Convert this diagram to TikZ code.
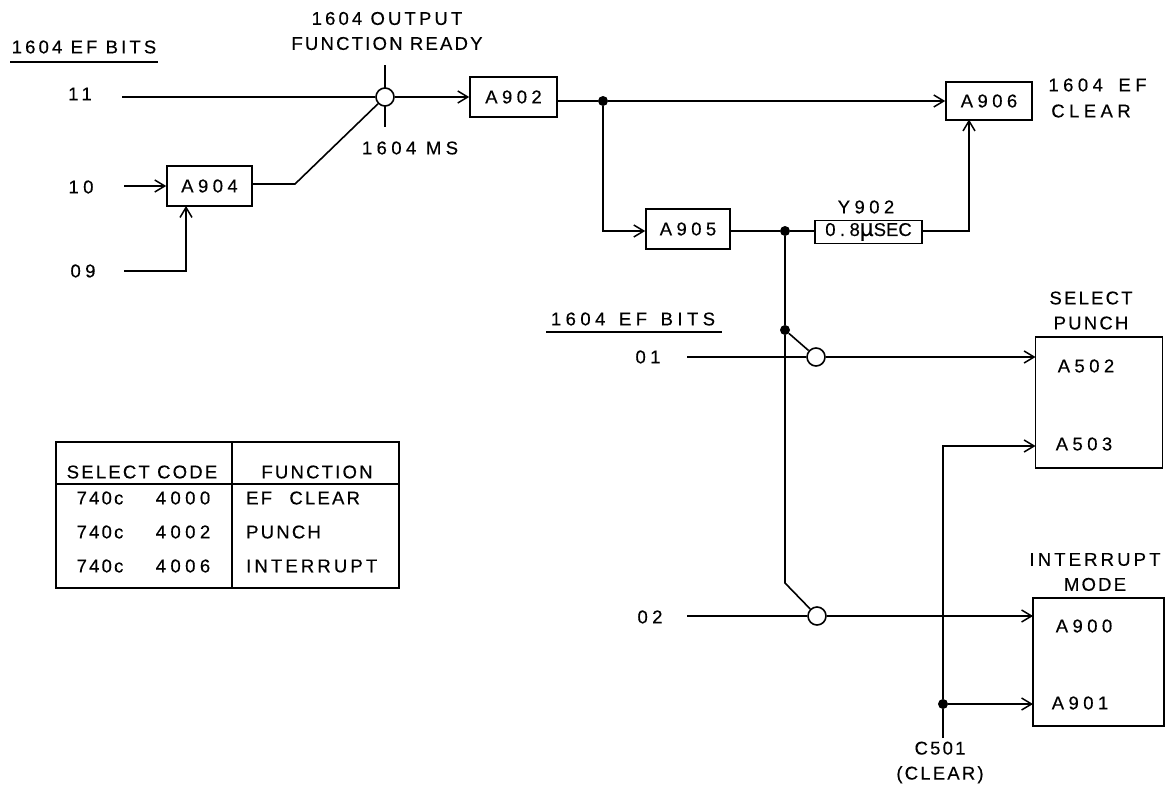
\documentclass[tikz,border=0pt]{standalone}
\usepackage{fontspec}
\setmainfont[LetterSpace=12,FakeBold=0.35]{Liberation Sans}
\newfontfamily\midfont[LetterSpace=17,FakeBold=0.35]{Liberation Sans}
\newfontfamily\widefont[LetterSpace=24,FakeBold=0.35]{Liberation Sans}
\newfontfamily\tightfont[FakeBold=0.35]{Liberation Sans}
\newcommand{\tagsize}{\fontsize{18.5}{25}\selectfont}
\usetikzlibrary{arrows.meta}
\tikzset{
  >={Straight Barb[length=10pt,width=12pt,line width=1.5pt]},
  wire/.style={line width=1.6pt},
  unitbox/.style={draw,line width=1.6pt,minimum width=85,minimum height=40,inner sep=0,font=\tagsize\widefont},
  tagtext/.style={inner sep=0,align=center,font=\tagsize},
  widetext/.style={inner sep=0,font=\tagsize\widefont},
  inputbox/.style={draw,line width=1.6pt,inner sep=0},
  gatecircle/.style={circle,draw,fill=white,line width=1.6pt,minimum size=18,inner sep=0},
  dotjoin/.style={circle,fill=black,minimum size=10,inner sep=0}
}
\begin{document}
\begin{tikzpicture}[x=1pt,y=-1pt]
\useasboundingbox (0,0) rectangle (1166,784);
\node[tagtext,font=\tagsize\midfont] (bitsA) at (84,47) {1604 EF BITS};
\draw[wire] (10,62) -- (158,62);
\node[widetext] (b11) at (80,94) {11};
\node[widetext] (b10) at (81,187) {10};
\node[widetext] (b09) at (83,271) {09};
\coordinate (s11) at (122,97);
\coordinate (s10) at (124,186);
\coordinate (s09) at (124,271);
\node[tagtext] (ready) at (387,31) {{\midfont 1604 OUTPUT}\\FUNCTION READY};
\node[widetext] (ms) at (410,148) {1604 MS};
\coordinate (tickT) at (385,65);
\coordinate (tickB) at (385,127);
\draw[wire] (tickT) -- (tickB);
\node[gatecircle] (gateA) at (385,97) {};
\node[unitbox,minimum width=87] (A902) at (513.5,97) {A902};
\node[unitbox] (A904) at (209.5,186) {A904};
\node[unitbox,minimum width=84] (A905) at (688,229) {A905};
\node[unitbox,minimum width=86,minimum height=38] (A906) at (989,101) {A906};
\node[widetext] (efbits) at (1097.5,85) {1604 \hspace{6pt}EF};
\node[widetext] (efclear) at (1091,111) {CLEAR};
\node[inputbox,minimum width=107,minimum height=23,font=\tagsize\tightfont] (Y902) at (868.5,232) {{\widefont 0.8}{\fontsize{24}{25}\selectfont µ}SEC};
\node[widetext] (ylabel) at (866,207) {Y902};
\coordinate (in904) at (186,206);
\coordinate (bend) at (295,184);
\coordinate (in906) at (969,119.5);
\node[dotjoin] (j1) at (603,101) {};
\node[dotjoin] (j2) at (785,231) {};
\node[dotjoin] (j3) at (785,330) {};
\draw[wire,->] (s11) -- (gateA) -- (A902);
\draw[wire,->] (s10) -- (A904);
\draw[wire,->] (s09) -| (in904);
\draw[wire] (A904.east |- bend) -- (bend) -- (gateA);
\draw[wire] (A902.east |- j1) -- (j1);
\draw[wire,->] (j1) -- (A906);
\draw[wire,->] (j1) |- (A905.west |- j2);
\draw[wire] (A905.east |- j2) -- (j2) -- (Y902.west |- j2);
\draw[wire,->] (Y902.east |- j2) -| (in906);
\node[widetext] (bitsB) at (633,319) {1604 \hspace{4pt}EF \hspace{4pt}BITS};
\draw[wire] (546,332) -- (722,332);
\node[widetext] (b01) at (648,357) {01};
\node[widetext] (b02) at (650,617) {02};
\coordinate (s01) at (687,357);
\coordinate (s02) at (687,616);
\coordinate (kink) at (785,583);
\node[gatecircle] (gateB) at (816,357) {};
\node[gatecircle] (gateC) at (817,616) {};
\draw[wire] (j2) -- (j3) -- (kink) -- (gateC);
\draw[wire] (j3) -- (gateB);
\draw[wire] (s01) -- (gateB);
\draw[wire] (s02) -- (gateC);
\node[inputbox,minimum width=127,minimum height=131] (punch) at (1099,402.5) {};
\node[inputbox,minimum width=131,minimum height=128] (inter) at (1098.5,662) {};
\node[tagtext] (selbl) at (1091,310.5) {SELECT\\PUNCH};
\node[tagtext] (inlbl) at (1095,572) {{\midfont INTERRUPT}\\MODE};
\node[widetext] (A502) at (1086,366) {A502};
\node[widetext] (A503) at (1084,444) {A503};
\node[widetext] (A900) at (1084,626) {A900};
\node[widetext] (A901) at (1080,703) {A901};
\coordinate (in502) at (1035.5,357);
\coordinate (in503) at (1035.5,446);
\coordinate (in900) at (1033,616);
\coordinate (in901) at (1033,704);
\draw[wire,->] (gateB) -- (in502);
\draw[wire,->] (gateC) -- (in900);
\node[dotjoin] (j4) at (943,704) {};
\coordinate (clear) at (943,738);
\node[tagtext] (c501) at (940,762.5) {C501\\(CLEAR)};
\draw[wire,->] (clear) -- (j4) |- (in503);
\draw[wire,->] (j4) -- (in901);
\node[inputbox,minimum width=343,minimum height=146] (table) at (227.5,515) {};
\draw[wire] (table.north -| 232,0) -- (table.south -| 232,0);
\draw[wire] (table.west |- 0,484) -- (table.east |- 0,484);
\node[tagtext] (hcode) at (142,472) {SELECT CODE};
\node[tagtext] (hfunc) at (317,472) {FUNCTION};
\node[tagtext] (p1) at (100,498) {740c};
\node[tagtext] (p2) at (100,532) {740c};
\node[tagtext] (p3) at (100,566) {740c};
\node[widetext] (c1) at (183,498) {4000};
\node[widetext] (c2) at (183,532) {4002};
\node[widetext] (c3) at (183,566) {4006};
\node[tagtext,anchor=west] (f1) at (246,498) {EF \hspace{10pt}CLEAR};
\node[tagtext,anchor=west] (f2) at (246,532) {PUNCH};
\node[tagtext,anchor=west,font=\tagsize\midfont] (f3) at (246,566) {INTERRUPT};
\end{tikzpicture}
\end{document}
